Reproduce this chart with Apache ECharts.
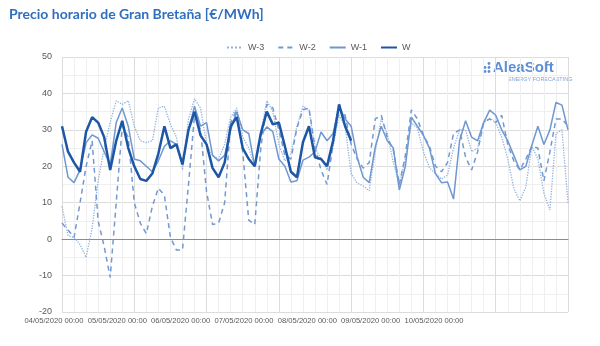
<!DOCTYPE html>
<html>
<head>
<meta charset="utf-8">
<script src="https://cdn.jsdelivr.net/npm/echarts@6/dist/echarts.min.js"></script>
<style>html,body{margin:0;padding:0;background:#fff}#c{width:600px;height:346px}</style>
</head>
<body>
<div id="c"></div>
<script>
// hours from 04/05/2020 00:00, 2-hour steps
var hours = [];
for (var h = 0; h <= 168; h += 2) hours.push(h);
var xTickLabels = ["04/05/2020 00:00","05/05/2020 00:00","06/05/2020 00:00","07/05/2020 00:00","08/05/2020 00:00","09/05/2020 00:00","10/05/2020 00:00"];
var yTicks = [-20,-10,0,10,20,30,40,50];

var seriesW = [31,24,21,18.5,29.5,33.5,32,28,19,27,32.5,25,20,16.5,16,18,23.5,31,25,26,20.5,30,35,28.5,26,19.5,17,21,31,33.5,25,22,20,29,35,31.5,32,25.5,18.5,17,26.6,31,22.5,22,20,27,37,31,27];
var seriesW1 = [26,17,15.5,19,26.5,28.6,27.7,24,20.3,32,36,31,22,21.5,20,18.5,21.5,25.5,27,26,20.5,30,36.5,31,32,23,21.5,23,30,35,30,29,20,28.6,30.8,29.5,22,20,15.7,16,21.7,22.5,24,29.4,27,29,36.3,33,31,22.5,17,15.5,25.3,31,27,25,13.5,20,33.5,31,28.5,25,18,15.5,15.7,11,27,32.5,28,27,32,35.4,34,30,27,23,19,20,25.8,31,26,30,37.5,36.8,30];
var seriesW2 = [4.4,2.5,0.5,10,20,27,5,-2,-10.5,10,31,28,10,4.4,1.5,9,14,12,0.5,-3,-3,15,34,30,13,4,4.4,10,32,35.5,24,5.2,4,25,37,36,30,23,22,30.5,35.5,36,25,19,15,26,36,34,26,22,19.5,21,33,34,28,24.5,15,23,35.5,33,28.5,25.5,20,18.5,21,29,30,22.5,19,24,32,33,32,34,26,21.5,19,22,25.5,25,16,24,33,33,31];
var seriesW3 = [9,1,0.5,-1.5,-5,3,16,25,32,38,37,38,31,27,26.5,27,36,36.5,31.5,28,19,33,38.5,36,26,23,22,26,33.5,36,28,25,20,29,38,35,26,21.5,23.5,31,36.5,35.5,25,22,19,25.3,34,31,18,15.4,14.6,13.3,24,33,29,21,15,22,31.9,30.5,24,19.6,18,16.5,17.6,25,30,30,24,25,32,33.2,32,28,22,14,10.5,14.3,25.5,22,12.6,8,29,30,10];

function pairs(vals){ return vals.map(function(v,i){ return [hours[i], v]; }); }

var chart = echarts.init(document.getElementById('c'), null, {renderer:'canvas'});
var yFont = {color:'#595959', fontSize:9, fontFamily:'Liberation Sans, Arial, sans-serif'};
var xFont = {color:'#595959', fontSize:7.6, fontFamily:'Liberation Sans, Arial, sans-serif'};
chart.setOption({
  animation:false,
  backgroundColor:'#ffffff',
  title:{text:'Precio horario de Gran Bretaña [€/MWh]', left:4, top:2,
    textStyle:{color:'#2f6fbd', fontSize:14, fontWeight:'bold', fontFamily:'Lato, sans-serif'}},
  legend:{top:38, left:221, itemWidth:16, itemHeight:8, itemGap:13,
    itemStyle:{opacity:0},
    textStyle:{color:'#595959', fontSize:9, fontFamily:'Liberation Sans, Arial, sans-serif'},
    data:['W-3','W-2','W-1','W']},
  grid:[
    {left:62, right:32, top:57, bottom:34, containLabel:false},
    {left:54, width:380, top:57, bottom:34, containLabel:false}
  ],
  xAxis:[
    {type:'value', gridIndex:0, min:0, max:168, interval:24,
     axisLine:{show:true, onZero:true, lineStyle:{color:'#8c8c8c', width:1}},
     axisTick:{show:false}, axisLabel:{show:false},
     splitLine:{show:true, lineStyle:{color:'#dcdcdc', width:1}},
     minorTick:{show:false, splitNumber:6},
     minorSplitLine:{show:true, lineStyle:{color:'#efefef', width:1}}},
    {type:'category', gridIndex:1, data:xTickLabels, boundaryGap:false,
     axisLine:{show:false}, axisTick:{show:false}, splitLine:{show:false},
     axisLabel:Object.assign({show:true, interval:0, margin:5, hideOverlap:false}, xFont)}
  ],
  yAxis:[
    {type:'value', gridIndex:0, min:yTicks[0], max:yTicks[yTicks.length-1], interval:10,
     axisLine:{show:false}, axisTick:{show:false},
     axisLabel:Object.assign({margin:10}, yFont),
     splitLine:{show:true, lineStyle:{color:'#dcdcdc', width:1}},
     minorTick:{show:false, splitNumber:2},
     minorSplitLine:{show:true, lineStyle:{color:'#efefef', width:1}}},
    {type:'value', gridIndex:1, min:0, max:1, show:false}
  ],
  series:[
    {name:'W-3', type:'line', xAxisIndex:0, yAxisIndex:0, data:pairs(seriesW3), symbol:'none',
     lineStyle:{color:'#8fb2e0', width:1.3, type:'dotted'}, itemStyle:{color:'#8fb2e0'}},
    {name:'W-2', type:'line', xAxisIndex:0, yAxisIndex:0, data:pairs(seriesW2), symbol:'none',
     lineStyle:{color:'#7399d0', width:1.5, type:[5,4]}, itemStyle:{color:'#7399d0'}},
    {name:'W-1', type:'line', xAxisIndex:0, yAxisIndex:0, data:pairs(seriesW1), symbol:'none',
     lineStyle:{color:'#6f97d0', width:1.5}, itemStyle:{color:'#6f97d0'}},
    {name:'W', type:'line', xAxisIndex:0, yAxisIndex:0, data:pairs(seriesW), symbol:'none',
     lineStyle:{color:'#1d56a5', width:2.5}, itemStyle:{color:'#1d56a5'}}
  ],
  graphic:[
    {type:'circle', shape:{cx:485, cy:71.5, r:1.4}, style:{fill:'#5b8fd8'}},
    {type:'circle', shape:{cx:489, cy:71.5, r:1.4}, style:{fill:'#5b8fd8'}},
    {type:'circle', shape:{cx:489, cy:67.5, r:1.4}, style:{fill:'#5b8fd8'}},
    {type:'circle', shape:{cx:489, cy:63.5, r:1.4}, style:{fill:'#5b8fd8'}},
    {type:'circle', shape:{cx:485, cy:67.5, r:1.4}, style:{fill:'#5b8fd8'}},
    {type:'text', left:493, top:60, style:{text:'AleaSoft', fill:'#5b8fd8', font:'bold 15px Liberation Sans, Arial, sans-serif'}},
    {type:'text', left:508, top:76, style:{text:'ENERGY FORECASTING', fill:'#7aa3de', font:'5.5px Liberation Sans, Arial, sans-serif'}}
  ]
});
</script>
</body>
</html>
